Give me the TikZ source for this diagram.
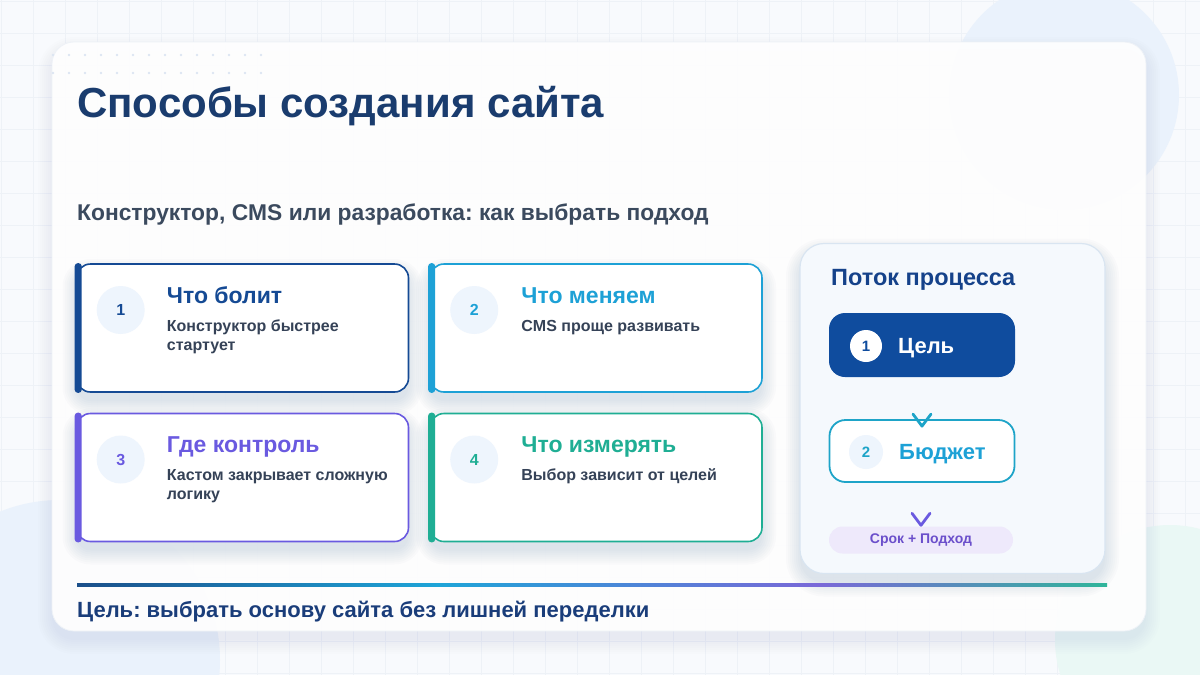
\documentclass[tikz,border=0pt]{standalone}
\usepackage{fontspec}
\setmainfont{Liberation Sans}
\frenchspacing
\usetikzlibrary{calc}
\definecolor{bgc}{HTML}{F8FAFD}
\definecolor{gridc}{HTML}{EEF2F7}
\definecolor{circblue}{HTML}{EAF2FC}
\definecolor{circteal}{HTML}{EAF8F5}
\definecolor{titlec}{HTML}{1A3C6E}
\definecolor{subc}{HTML}{3B4A5E}
\definecolor{bodyc}{HTML}{354257}
\definecolor{cA}{HTML}{154A94}
\definecolor{cB}{HTML}{1DA1D6}
\definecolor{cC}{HTML}{6A5AE0}
\definecolor{cD}{HTML}{1FAE94}
\definecolor{numfill}{HTML}{EEF5FD}
\definecolor{panelc}{HTML}{F5F9FD}
\definecolor{paneld}{HTML}{D9E5F1}
\definecolor{flowt}{HTML}{15428A}
\definecolor{goalc}{HTML}{0F4C9E}
\definecolor{budc}{HTML}{1EA4C8}
\definecolor{pillc}{HTML}{EEE9FB}
\definecolor{pillt}{HTML}{6B4FCB}
\definecolor{footc}{HTML}{1A3D7A}
\definecolor{dotc}{HTML}{DCE5F2}
\definecolor{shadowc}{HTML}{1E3C78}
\definecolor{gA}{HTML}{1B4F8A}
\definecolor{gB}{HTML}{1EA5D8}
\definecolor{gC}{HTML}{7A68D8}
\definecolor{gD}{HTML}{2FB59A}
\pgfdeclarehorizontalshading{footline}{100bp}{color(0bp)=(gA); color(25bp)=(gA); color(42.5bp)=(gB); color(61bp)=(gC); color(75bp)=(gD); color(100bp)=(gD)}
% soft shadow: centre x, centre y, width, height, radius, opacity
\newcommand\softshade[6]{%
  \foreach \s in {0,2,...,14} {%
    \pgfmathsetmacro\rr{#5+\s}%
    \fill[shadowc, fill opacity=#6, rounded corners=\rr pt]
      ({#1-#3/2-\s},{#2-#4/2-\s+9}) rectangle ({#1+#3/2+\s},{#2+#4/2+\s+9});
  }}
\begin{document}
\begin{tikzpicture}[x=1pt,y=-1pt,
  every node/.style={font=\bfseries},
  cardbox/.style={draw=#1, line width=1.6pt, rounded corners=14pt, fill=white, minimum width=332pt, minimum height=128pt, inner sep=0pt},
  accentbar/.style={fill=#1, rounded corners=3pt},
  numdisc/.style={circle, fill=numfill, minimum size=48pt, inner sep=0pt, text=#1, font=\bfseries\fontsize{16}{18}\selectfont},
  cardtitle/.style={anchor=base west, inner sep=0pt, text=#1, font=\bfseries\fontsize{23}{26}\selectfont},
  cardbody/.style={anchor=base west, inner sep=0pt, text=bodyc, font=\bfseries\fontsize{16}{19}\selectfont},
  chevron/.style={draw=#1, line width=2.8pt, line cap=round, line join=round}
]
\useasboundingbox (0,0) rectangle (1200,675);
% background
\fill[bgc] (0,0) rectangle (1200,675);
\foreach \gx in {1,33,...,1200} \draw[gridc, line width=0.8pt] (\gx,0) -- (\gx,675);
\foreach \gy in {1,33,...,675} \draw[gridc, line width=0.8pt] (0,\gy) -- (1200,\gy);
\fill[circblue] (1064,95) circle (115);
\fill[circblue] (60,660) circle (160);
\fill[circteal] (1170,640) circle (115);
% main card
\softshade{599}{336.5}{1094}{589}{22}{0.007}
\fill[white, fill opacity=0.92, rounded corners=22pt] (52,42) rectangle (1146,631);
\draw[gridc, line width=0.8pt, rounded corners=22pt] (52,42) rectangle (1146,631);
% dots
\foreach \dx in {0,...,13} {
  \fill[dotc] (53+16*\dx,55) circle (1.3);
  \fill[dotc] (53+16*\dx,73) circle (1.3);
}
% title
\node[anchor=base west, inner sep=0pt, text=titlec, font=\bfseries\fontsize{42}{50}\selectfont] (title) at (77,117) {Способы создания сайта};
\node[anchor=base west, inner sep=0pt, text=subc, font=\bfseries\fontsize{22.8}{26}\selectfont] (subtitle) at (77,220) {Конструктор, CMS или разработка: как выбрать подход};
% cards
\softshade{242.5}{328}{332}{128}{14}{0.014}
\softshade{596}{328}{332}{128}{14}{0.014}
\softshade{242.5}{477.5}{332}{128}{14}{0.014}
\softshade{596}{477.5}{332}{128}{14}{0.014}
\node[cardbox=cA] (c1) at (242.5,328) {};
\node[cardbox=cB] (c2) at (596,328) {};
\node[cardbox=cC] (c3) at (242.5,477.5) {};
\node[cardbox=cD] (c4) at (596,477.5) {};
\fill[accentbar=cA] ($(c1.north west)+(-1,0)$) rectangle ($(c1.south west)+(6,0)$);
\fill[accentbar=cB] ($(c2.north west)+(-1,0)$) rectangle ($(c2.south west)+(6,0)$);
\fill[accentbar=cC] ($(c3.north west)+(-1,0)$) rectangle ($(c3.south west)+(6,0)$);
\fill[accentbar=cD] ($(c4.north west)+(-1,0)$) rectangle ($(c4.south west)+(6,0)$);
% card 1
\node[numdisc=cA] (n1) at ($(c1.west)+(45,-18)$) {1};
\node[cardtitle=cA] (t1) at ($(c1.north west)+(91,40)$) {Что болит};
\node[cardbody] (b1a) at ($(c1.north west)+(91,68)$) {Конструктор быстрее};
\node[cardbody] (b1b) at ($(c1.north west)+(91,87)$) {стартует};
% card 2
\node[numdisc=cB] (n2) at ($(c2.west)+(45,-18)$) {2};
\node[cardtitle=cB] (t2) at ($(c2.north west)+(92,40)$) {Что меняем};
\node[cardbody] (b2a) at ($(c2.north west)+(92,68)$) {CMS проще развивать};
% card 3
\node[numdisc=cC] (n3) at ($(c3.west)+(45,-18)$) {3};
\node[cardtitle=cC] (t3) at ($(c3.north west)+(91,40)$) {Где контроль};
\node[cardbody] (b3a) at ($(c3.north west)+(91,68)$) {Кастом закрывает сложную};
\node[cardbody] (b3b) at ($(c3.north west)+(91,87)$) {логику};
% card 4
\node[numdisc=cD] (n4) at ($(c4.west)+(45,-18)$) {4};
\node[cardtitle=cD] (t4) at ($(c4.north west)+(92,40)$) {Что измерять};
\node[cardbody] (b4a) at ($(c4.north west)+(92,68)$) {Выбор зависит от целей};
% flow panel
\softshade{952.5}{408.5}{305}{330}{24}{0.014}
\node[draw=paneld, line width=1.2pt, fill=panelc, rounded corners=24pt, minimum width=305pt, minimum height=330pt, inner sep=0pt] (panel) at (952.5,408.5) {};
\node[anchor=base west, inner sep=0pt, text=flowt, font=\bfseries\fontsize{23.5}{27}\selectfont] (ptitle) at (831,285) {Поток процесса};
\node[fill=goalc, rounded corners=16pt, minimum width=186pt, minimum height=64pt, inner sep=0pt] (goal) at (922,345) {};
\node[circle, fill=white, minimum size=32pt, inner sep=0pt, text=goalc, font=\bfseries\fontsize{15}{17}\selectfont] (g1) at (866,346) {1};
\node[anchor=base west, inner sep=0pt, text=white, font=\bfseries\fontsize{22}{26}\selectfont] (gt) at (898,353) {Цель};
\node[draw=budc, line width=1.8pt, fill=white, rounded corners=16pt, minimum width=185pt, minimum height=62pt, inner sep=0pt] (budget) at (922,451) {};
\node[circle, fill=numfill, minimum size=34pt, inner sep=0pt, text=budc, font=\bfseries\fontsize{15}{17}\selectfont] (b2) at (866,452) {2};
\node[anchor=base west, inner sep=0pt, text=cB, font=\bfseries\fontsize{22}{26}\selectfont] (bt) at (899,459) {Бюджет};
\node[fill=pillc, rounded corners=13.5pt, minimum width=184pt, minimum height=27pt, inner sep=0pt, text=pillt, font=\bfseries\fontsize{14}{16}\selectfont] (pill) at (921,540) {Срок + Подход};
\draw[chevron=budc] ($(budget.north)+(-9,-5)$) -- ($(budget.north)+(0,7)$) -- ($(budget.north)+(9,-5)$);
\draw[chevron=cC] ($(pill.north)+(-9,-13)$) -- ($(pill.north)+(0,-1)$) -- ($(pill.north)+(9,-13)$);
% footer
\fill[shading=footline] (77,583.5) rectangle (1107,586.5);
\node[anchor=base west, inner sep=0pt, text=footc, font=\bfseries\fontsize{22}{25}\selectfont] (foot) at (77,617) {Цель: выбрать основу сайта без лишней переделки};
\end{tikzpicture}
\end{document}
